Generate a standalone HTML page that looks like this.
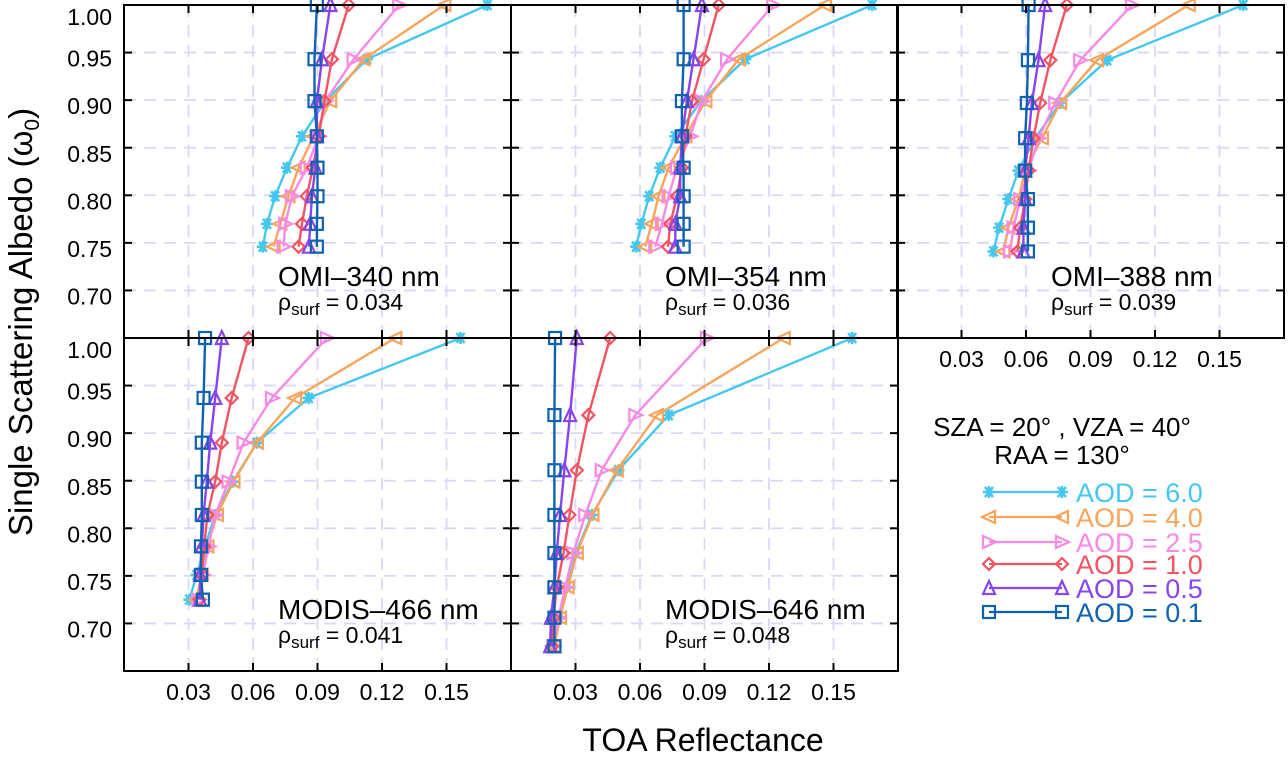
<!DOCTYPE html>
<html><head><meta charset="utf-8"><style>
html,body{margin:0;padding:0;background:#fff;}
svg{display:block;font-family:"Liberation Sans","DejaVu Sans",sans-serif;}
</style></head><body>
<svg id="chart" width="1288" height="760" viewBox="0 0 1288 760" xmlns="http://www.w3.org/2000/svg">
<g id="grid"></g>
<g id="series"></g>
<g id="frames"></g>
<g id="labels"></g>
<text transform="translate(32,322) rotate(-90)" text-anchor="middle" font-size="33">Single Scattering Albedo (ω<tspan font-size="21" dy="7">0</tspan><tspan dy="-7">)</tspan></text>
<text x="703" y="751" text-anchor="middle" font-size="32">TOA Reflectance</text>
<text x="1062" y="436" text-anchor="middle" font-size="26">SZA = 20° , VZA =  40°</text>
<text x="1062" y="464" text-anchor="middle" font-size="26">RAA = 130°</text>
<g id="legend"></g>
</svg>
<script>
// ---- data ----
const aodLabels = ["AOD = 6.0","AOD = 4.0","AOD = 2.5","AOD = 1.0","AOD = 0.5","AOD = 0.1"];
const seriesColors = ["#45c8ef","#f8a55c","#f78ae6","#f25562","#8a44ee","#0f62b0"];
const markerTypes = ["star","left","right","diamond","up","square"];
const xTicks = [0.03,0.06,0.09,0.12,0.15];
const yTicks = [1.00,0.95,0.90,0.85,0.80,0.75,0.70];
const panelNames = ["OMI–340 nm","OMI–354 nm","OMI–388 nm","MODIS–466 nm","MODIS–646 nm"];
const panelRho = ["0.034","0.036","0.039","0.041","0.048"];

const omega340 = [1.00,0.943,0.899,0.862,0.829,0.799,0.770,0.746];
const omega354 = [1.00,0.943,0.899,0.862,0.829,0.799,0.770,0.746];
const omega388 = [1.00,0.942,0.897,0.860,0.826,0.796,0.766,0.741];
const omega466 = [1.00,0.937,0.890,0.849,0.814,0.781,0.751,0.725];
const omega646 = [1.00,0.919,0.861,0.814,0.774,0.738,0.706,0.676];

const p340_aod60 = [0.169,0.113,0.0936,0.0828,0.0758,0.0703,0.0665,0.0646];
const p340_aod40 = [0.149,0.1115,0.0959,0.0882,0.0812,0.0765,0.0727,0.0696];
const p340_aod25 = [0.128,0.1068,0.0936,0.0905,0.085,0.0781,0.075,0.0742];
const p340_aod10 = [0.1045,0.0967,0.0932,0.0905,0.0879,0.085,0.0828,0.0812];
const p340_aod05 = [0.096,0.0921,0.0897,0.0897,0.089,0.0874,0.0866,0.086];
const p340_aod01 = [0.0897,0.0886,0.0886,0.0897,0.090,0.090,0.0897,0.0897];

const p354_aod60 = [0.168,0.109,0.0885,0.0764,0.0694,0.0643,0.0606,0.0582];
const p354_aod40 = [0.146,0.106,0.0904,0.0811,0.0733,0.0686,0.0655,0.0624];
const p354_aod25 = [0.122,0.1005,0.0888,0.0834,0.0772,0.0733,0.0702,0.0671];
const p354_aod10 = [0.0966,0.0896,0.0842,0.0811,0.0795,0.0772,0.0741,0.073];
const p354_aod05 = [0.0888,0.0849,0.0818,0.0795,0.0787,0.0787,0.0764,0.0764];
const p354_aod01 = [0.0803,0.0803,0.0795,0.0795,0.0803,0.0803,0.0803,0.0803];

const p388_aod60 = [0.161,0.0977,0.0759,0.0643,0.0565,0.0518,0.0475,0.0449];
const p388_aod40 = [0.1357,0.093,0.0759,0.0674,0.0596,0.0565,0.0518,0.0495];
const p388_aod25 = [0.1093,0.0852,0.0736,0.0658,0.0612,0.0573,0.0542,0.0526];
const p388_aod10 = [0.079,0.0713,0.0666,0.0635,0.0612,0.0596,0.0573,0.056];
const p388_aod05 = [0.0689,0.0658,0.0627,0.0612,0.0596,0.0596,0.0588,0.0588];
const p388_aod01 = [0.0612,0.0609,0.0604,0.0596,0.0596,0.0609,0.0609,0.0609];

const p466_aod60 = [0.1565,0.0859,0.0618,0.0506,0.0424,0.0377,0.0338,0.0304];
const p466_aod40 = [0.1262,0.0796,0.0618,0.0509,0.0432,0.0388,0.0362,0.0335];
const p466_aod25 = [0.0944,0.0688,0.0556,0.0486,0.0424,0.0393,0.0367,0.0346];
const p466_aod10 = [0.0579,0.0501,0.0455,0.0424,0.0388,0.0373,0.0362,0.0351];
const p466_aod05 = [0.0455,0.0424,0.0401,0.0385,0.037,0.0362,0.0354,0.0354];
const p466_aod01 = [0.0377,0.037,0.0362,0.0362,0.0362,0.0358,0.0358,0.0367];

const p646_aod60 = [0.1587,0.0733,0.050,0.0376,0.0301,0.0259,0.022,0.0197];
const p646_aod40 = [0.1269,0.0679,0.0492,0.0379,0.0306,0.0264,0.0228,0.0202];
const p646_aod25 = [0.0911,0.0578,0.0422,0.0345,0.029,0.0252,0.022,0.0197];
const p646_aod10 = [0.0461,0.036,0.0306,0.0272,0.0244,0.0213,0.0197,0.019];
const p646_aod05 = [0.0306,0.0275,0.0248,0.0228,0.0213,0.0202,0.0186,0.0182];
const p646_aod01 = [0.0205,0.0202,0.0202,0.0202,0.0202,0.0202,0.0202,0.0202];

const panelOmega = [omega340,omega354,omega388,omega466,omega646];
const panelSeries = [
  [p340_aod60,p340_aod40,p340_aod25,p340_aod10,p340_aod05,p340_aod01],
  [p354_aod60,p354_aod40,p354_aod25,p354_aod10,p354_aod05,p354_aod01],
  [p388_aod60,p388_aod40,p388_aod25,p388_aod10,p388_aod05,p388_aod01],
  [p466_aod60,p466_aod40,p466_aod25,p466_aod10,p466_aod05,p466_aod01],
  [p646_aod60,p646_aod40,p646_aod25,p646_aod10,p646_aod05,p646_aod01]
];

// ---- layout ----
const NS="http://www.w3.org/2000/svg";
const boxes=[{x:124,y:5},{x:511,y:5},{x:897,y:5},{x:124,y:338},{x:511,y:338}];
const PW=387, PH=333, XMAX=0.18, YMIN=0.65, YMAX=1.00;
function sx(b,v){return b.x+v/XMAX*PW;}
function sy(b,v){return b.y+(YMAX-v)/(YMAX-YMIN)*PH;}
function mk(tag,attrs,parent){const e=document.createElementNS(NS,tag);for(const k in attrs)e.setAttribute(k,attrs[k]);parent.appendChild(e);return e;}
const gGrid=document.getElementById('grid'),gSer=document.getElementById('series'),gFr=document.getElementById('frames'),gLab=document.getElementById('labels'),gLeg=document.getElementById('legend');

function marker(type,x,y,color,parent){
  const s=6;let e;
  const st={fill:'none',stroke:color,'stroke-width':2.2};
  if(type==='square'){e=mk('rect',Object.assign({x:x-s,y:y-s,width:2*s,height:2*s},st),parent);}
  else if(type==='diamond'){e=mk('polygon',Object.assign({points:`${x},${y-s} ${x+s},${y} ${x},${y+s} ${x-s},${y}`},st),parent);}
  else if(type==='up'){e=mk('polygon',Object.assign({points:`${x},${y-s-1} ${x+s},${y+s} ${x-s},${y+s}`},st),parent);}
  else if(type==='right'){e=mk('polygon',Object.assign({points:`${x+s+1},${y} ${x-s},${y-s} ${x-s},${y+s}`},st),parent);}
  else if(type==='left'){e=mk('polygon',Object.assign({points:`${x-s-1},${y} ${x+s},${y-s} ${x+s},${y+s}`},st),parent);}
  else {e=mk('path',Object.assign({d:`M${x-s},${y}H${x+s}M${x-4},${y-5}L${x+4},${y+5}M${x-4},${y+5}L${x+4},${y-5}M${x},${y-6}V${y+6}`},st,{'stroke-width':2.6}),parent);}
  
  
}

boxes.forEach((b,pi)=>{
  xTicks.forEach(t=>{
    const l=mk('line',{x1:sx(b,t),x2:sx(b,t),y1:b.y,y2:b.y+PH,stroke:'#d9d9f7','stroke-width':1.8,'stroke-dasharray':'12 8'},gGrid);
    
    
  });
  yTicks.slice(1).forEach(t=>{
    const l=mk('line',{x1:b.x,x2:b.x+PW,y1:sy(b,t),y2:sy(b,t),stroke:'#d9d9f7','stroke-width':1.8,'stroke-dasharray':'12 8'},gGrid);
    
    
  });
  panelSeries[pi].forEach((vals,si)=>{
    const om=panelOmega[pi];
    const pts=vals.map((v,i)=>sx(b,v).toFixed(1)+','+sy(b,om[i]).toFixed(1)).join(' ');
    const pl=mk('polyline',{points:pts,fill:'none',stroke:seriesColors[si],'stroke-width':2.4},gSer);
    
    
    vals.forEach((v,i)=>marker(markerTypes[si],sx(b,v),sy(b,om[i]),seriesColors[si],gSer));
  });
  const r=mk('rect',{x:b.x,y:b.y,width:PW,height:PH,fill:'none',stroke:'#000','stroke-width':2},gFr);
  
  
  xTicks.forEach(t=>{
    const x=sx(b,t);
    mk('line',{x1:x,x2:x,y1:b.y,y2:b.y+8,stroke:'#000','stroke-width':2},gFr);
    mk('line',{x1:x,x2:x,y1:b.y+PH,y2:b.y+PH-8,stroke:'#000','stroke-width':2},gFr);
  });
  yTicks.forEach(t=>{
    const y=sy(b,t);
    mk('line',{x1:b.x,x2:b.x+8,y1:y,y2:y,stroke:'#000','stroke-width':2},gFr);
    mk('line',{x1:b.x+PW,x2:b.x+PW-8,y1:y,y2:y,stroke:'#000','stroke-width':2},gFr);
  });
  const t1=mk('text',{x:b.x+154,y:b.y+281,'font-size':28},gLab);t1.textContent=panelNames[pi];
  
  
  const t2=mk('text',{x:b.x+154,y:b.y+305,'font-size':23},gLab);
  t2.innerHTML='ρ<tspan font-size="17" dy="5">surf</tspan><tspan dy="-5"> = '+panelRho[pi]+'</tspan>';
  
  
  if(b.x===124){
    yTicks.forEach(t=>{
      const yy=Math.max(sy(b,t)+8, b.y+14);
      const tl=mk('text',{x:112,y:yy,'font-size':23,'text-anchor':'end','dominant-baseline':'middle'},gLab);
      tl.textContent=t.toFixed(2);
      
      
    });
  }
  if(b.y===338||pi===2){
    xTicks.forEach(t=>{
      const tl=mk('text',{x:sx(b,t),y:b.y+PH+29,'font-size':23,'text-anchor':'middle'},gLab);
      tl.textContent=t.toFixed(2);
      
      
    });
  }
});

const legY=[492,517,542,564,588,612];
aodLabels.forEach((lab,i)=>{
  const y=legY[i];
  const l=mk('line',{x1:989,x2:1062,y1:y,y2:y,stroke:seriesColors[i],'stroke-width':2.2},gLeg);
  
  
  marker(markerTypes[i],989,y,seriesColors[i],gLeg);
  marker(markerTypes[i],1062,y,seriesColors[i],gLeg);
  const t=mk('text',{x:1076,y:y+10,'font-size':27,fill:seriesColors[i]},gLeg);
  t.textContent=lab;
  
  
});
</script>
</body></html>
